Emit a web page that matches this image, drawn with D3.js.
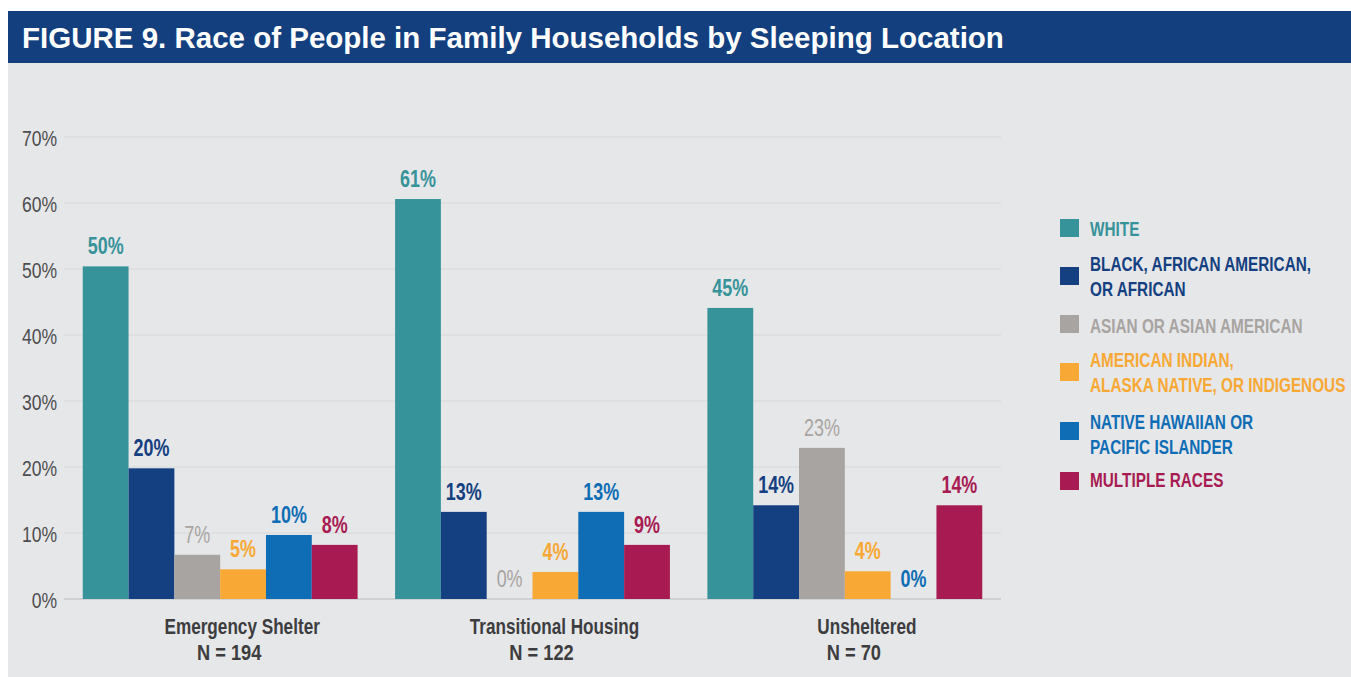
<!DOCTYPE html>
<html>
<head>
<meta charset="utf-8">
<script src="https://cdn.jsdelivr.net/npm/d3@7"></script>
<style>
  body { margin: 0; background: #fff; }
  svg { display: block; }
  text { font-family: 'Liberation Sans', Arial, sans-serif; }
</style>
</head>
<body>
<script>
let width = 1351;
let height = 677;

// data
let groups = ["Emergency Shelter", "Transitional Housing", "Unsheltered"];
let groupN = ["N = 194", "N = 122", "N = 70"];
let races = ["WHITE", "BLACK", "ASIAN", "AMIND", "NHPI", "MULTI"];
let white = [50.4, 60.6, 44.1];
let black = [19.8, 13.2, 14.2];
let asian = [6.7, 0, 22.9];
let amInd = [4.5, 4.1, 4.2];
let nhpi = [9.7, 13.2, 0];
let multi = [8.2, 8.2, 14.2];
let labels = [
  ["50%", "20%", "7%", "5%", "10%", "8%"],
  ["61%", "13%", "0%", "4%", "13%", "9%"],
  ["45%", "14%", "23%", "4%", "0%", "14%"]
];
let legendLabels = [
  ["WHITE"],
  ["BLACK, AFRICAN AMERICAN,", "OR AFRICAN"],
  ["ASIAN OR ASIAN AMERICAN"],
  ["AMERICAN INDIAN,", "ALASKA NATIVE, OR INDIGENOUS"],
  ["NATIVE HAWAIIAN OR", "PACIFIC ISLANDER"],
  ["MULTIPLE RACES"]
];
let yTicks = [0, 10, 20, 30, 40, 50, 60, 70];

let series = [white, black, asian, amInd, nhpi, multi];
let colors = ["#37939a", "#143f80", "#a8a4a1", "#f8a834", "#0e6db5", "#a81b52"];

// no condensed font installed, so squeeze text horizontally
function squeezed(x, y, s) { return "translate(" + x + "," + y + ") scale(" + s + ",1)"; }

let svg = d3.select("body").append("svg")
            .attr("width", width)
            .attr("height", height);

// panel + title bar
svg.append("rect").attr("x", 8).attr("y", 63).attr("width", width - 8).attr("height", height - 63)
   .attr("fill", "#e6e7e9");
svg.append("rect").attr("x", 8).attr("y", 11).attr("width", width - 8).attr("height", 52)
   .attr("fill", "#133f7f");
svg.append("text").attr("x", 22).attr("y", 48)
   .attr("fill", "#fff")
   .attr("font-weight", "bold")
   .attr("font-size", 29.5)
   .text("FIGURE 9. Race of People in Family Households by Sleeping Location");

let plotLeft = 64, plotRight = 1001;
let y = d3.scaleLinear().domain([0, 70]).range([599, 137]);
let x0 = d3.scaleBand().domain(groups).range([plotLeft, plotRight])
           .paddingInner(0.12).paddingOuter(0.06);
let x1 = d3.scaleBand().domain(races).range([0, x0.bandwidth()]);

// gridlines
svg.append("g").selectAll("line").data(yTicks).enter().append("line")
   .attr("x1", plotLeft).attr("x2", plotRight)
   .attr("y1", function(d) { return y(d); })
   .attr("y2", function(d) { return y(d); })
   .attr("stroke", function(d) { return d === 0 ? "#c9cacc" : "#d6d7d9"; })
   .attr("stroke-width", function(d) { return d === 0 ? 1.5 : 1; });

// y axis labels
let yAxis = d3.axisLeft(y).tickValues(yTicks).tickSize(0).tickPadding(0)
              .tickFormat(function(d) { return d + "%"; });
let yg = svg.append("g").attr("transform", "translate(" + plotLeft + ",0)").call(yAxis);
yg.select(".domain").remove();
yg.selectAll("text")
  .attr("x", null)
  .attr("dy", null)
  .attr("transform", squeezed(-7, 8, 0.78))
  .attr("font-family", null)
  .attr("font-size", 22.5)
  .attr("fill", "#4d4d4f");

// bars
let rows = groups.map(function(g, gi) {
  return races.map(function(r, ri) {
    return { group: g, race: r, value: series[ri][gi], label: labels[gi][ri], color: colors[ri] };
  });
});

let gGroups = svg.append("g").selectAll("g").data(rows).enter().append("g")
   .attr("transform", function(d, i) { return "translate(" + x0(groups[i]) + ",0)"; });

gGroups.selectAll("rect").data(function(d) { return d; }).enter().append("rect")
   .attr("x", function(d) { return x1(d.race); })
   .attr("y", function(d) { return y(d.value); })
   .attr("width", x1.bandwidth())
   .attr("height", function(d) { return y(0) - y(d.value); })
   .attr("fill", function(d) { return d.color; });

gGroups.selectAll("text").data(function(d) { return d; }).enter().append("text")
   .attr("transform", function(d) {
     return squeezed(x1(d.race) + x1.bandwidth() / 2, y(d.value) - 12, 0.78);
   })
   .attr("text-anchor", "middle")
   .attr("font-weight", function(d) { return d.race === "ASIAN" ? "normal" : "bold"; })
   .attr("font-size", 23)
   .attr("fill", function(d) { return d.color; })
   .text(function(d) { return d.label; });

// category labels (sit a little right of the group centre in the original)
let xg = svg.append("g").selectAll("g").data(groups).enter().append("g");
xg.append("text")
  .attr("transform", function(d) { return squeezed(x0(d) + x0.bandwidth() / 2 + 22, 634, 0.78); })
  .attr("text-anchor", "middle")
  .attr("font-weight", "bold")
  .attr("font-size", 22)
  .attr("fill", "#3d3d3f")
  .text(function(d) { return d; });
xg.append("text")
  .attr("transform", function(d) { return squeezed(x0(d) + x0.bandwidth() / 2 + 9, 660, 0.83); })
  .attr("text-anchor", "middle")
  .attr("font-weight", "bold")
  .attr("font-size", 22)
  .attr("fill", "#3d3d3f")
  .text(function(d, i) { return groupN[i]; });

// legend
let swatchTop = [219, 267, 315, 363, 422, 472];
let textBase = [236, 271, 333, 367, 429, 487];
let legend = svg.append("g").selectAll("g").data(legendLabels).enter().append("g");
legend.append("rect")
   .attr("x", 1060)
   .attr("y", function(d, i) { return swatchTop[i]; })
   .attr("width", 19).attr("height", 18)
   .attr("fill", function(d, i) { return colors[i]; });
legend.each(function(d, i) {
  let g = d3.select(this);
  d.forEach(function(line, li) {
    g.append("text")
     .attr("transform", squeezed(1090, textBase[i] + li * 25, 0.73))
     .attr("font-weight", "bold")
     .attr("font-size", 21)
     .attr("fill", colors[i])
     .text(line);
  });
});
</script>
</body>
</html>
